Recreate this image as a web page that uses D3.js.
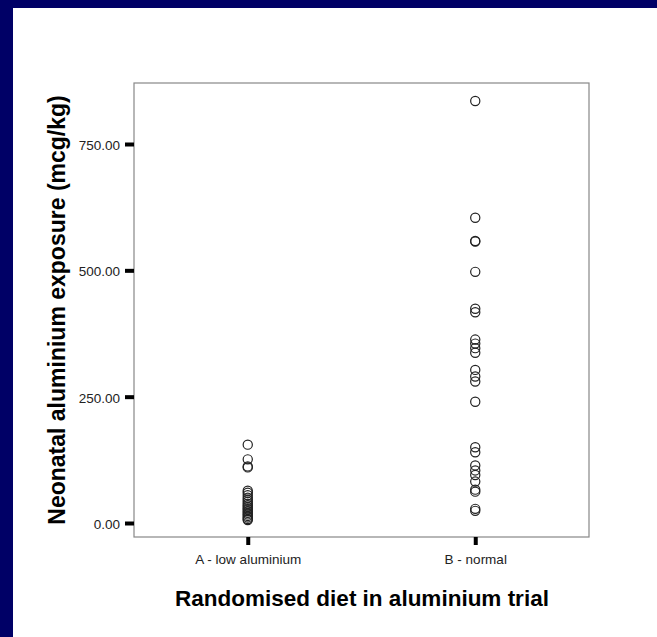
<!DOCTYPE html>
<html>
<head>
<meta charset="utf-8">
<script src="https://cdn.jsdelivr.net/npm/d3@7"></script>
<style>
  body { margin: 0; background: #fff; }
  svg text { font-family: "Liberation Sans", Arial, sans-serif; }
</style>
</head>
<body>
<div id="chart"></div>
<script>
// groups on the x axis
const groups = ["A - low aluminium", "B - normal"];
// y axis ticks
const yTicks = [0, 250, 500, 750];
// exposure values (mcg/kg)
const lowValues = [155, 126, 112, 110, 64, 60, 55, 50, 46, 42, 38, 35, 32, 29, 26, 23, 20, 17, 14, 11, 8, 6];
const normalValues = [835, 604, 558, 557, 497, 424, 417, 363, 355, 346, 337, 303, 290, 280, 240,
  150, 140, 114, 104, 95, 82, 66, 62, 28, 24];

const width = 657, height = 637;
const margin = { left: 134, right: 68, top: 83, bottom: 100 };

const svg = d3.select("#chart")
  .append("svg")
  .attr("width", width)
  .attr("height", height);

//navy frame on top and left like the slide
svg.append("rect").attr("x", 0).attr("y", 0).attr("width", width).attr("height", 8).attr("fill", "#000066");
svg.append("rect").attr("x", 0).attr("y", 0).attr("width", 13).attr("height", height).attr("fill", "#000066");

const xScale = d3.scalePoint()
  .domain(groups)
  .range([margin.left, width - margin.right])
  .padding(0.5);

const yScale = d3.scaleLinear()
  .domain([0, 750])
  .range([523, 144]);

const plotBottom = height - margin.bottom;

//plot frame
svg.append("rect")
  .attr("x", margin.left)
  .attr("y", margin.top)
  .attr("width", width - margin.right - margin.left)
  .attr("height", plotBottom - margin.top)
  .attr("fill", "none")
  .attr("stroke", "#888")
  .attr("stroke-width", 1.2);

//y axis
const yAxis = svg.append("g")
  .attr("transform", `translate(${margin.left}, 0)`)
  .call(d3.axisLeft(yScale).tickValues(yTicks).tickFormat(d3.format(".2f")).tickSize(9).tickPadding(5));
yAxis.select(".domain").remove();
yAxis.selectAll(".tick line").attr("stroke", "#000").attr("stroke-width", 4);
yAxis.selectAll(".tick text").attr("font-size", 13.5).attr("fill", "#222").attr("dy", "0.4em");

//x axis
const xAxis = svg.append("g")
  .attr("transform", `translate(0, ${plotBottom})`)
  .call(d3.axisBottom(xScale).tickSize(8).tickPadding(9));
xAxis.select(".domain").remove();
xAxis.selectAll(".tick line").attr("stroke", "#000").attr("stroke-width", 4);
xAxis.selectAll(".tick text").attr("font-size", 13.5).attr("fill", "#222");

//points
const pts = [
  ...lowValues.map((v) => ({ g: groups[0], v })),
  ...normalValues.map((v) => ({ g: groups[1], v })),
];
svg.append("g")
  .selectAll("circle")
  .data(pts)
  .enter()
  .append("circle")
    .attr("cx", (d) => xScale(d.g))
    .attr("cy", (d) => yScale(d.v))
    .attr("r", 4.6)
    .attr("fill", "none")
    .attr("stroke", "#222")
    .attr("stroke-width", 1.2);

//axis titles
svg.append("text")
  .attr("transform", `translate(65, ${(margin.top + plotBottom) / 2}) rotate(-90)`)
  .attr("text-anchor", "middle")
  .attr("font-size", 23)
  .attr("font-weight", "bold")
  .text("Neonatal aluminium exposure (mcg/kg)");

svg.append("text")
  .attr("x", 362)
  .attr("y", 606)
  .attr("text-anchor", "middle")
  .attr("font-size", 22.5)
  .attr("font-weight", "bold")
  .text("Randomised diet in aluminium trial");
</script>
</body>
</html>
